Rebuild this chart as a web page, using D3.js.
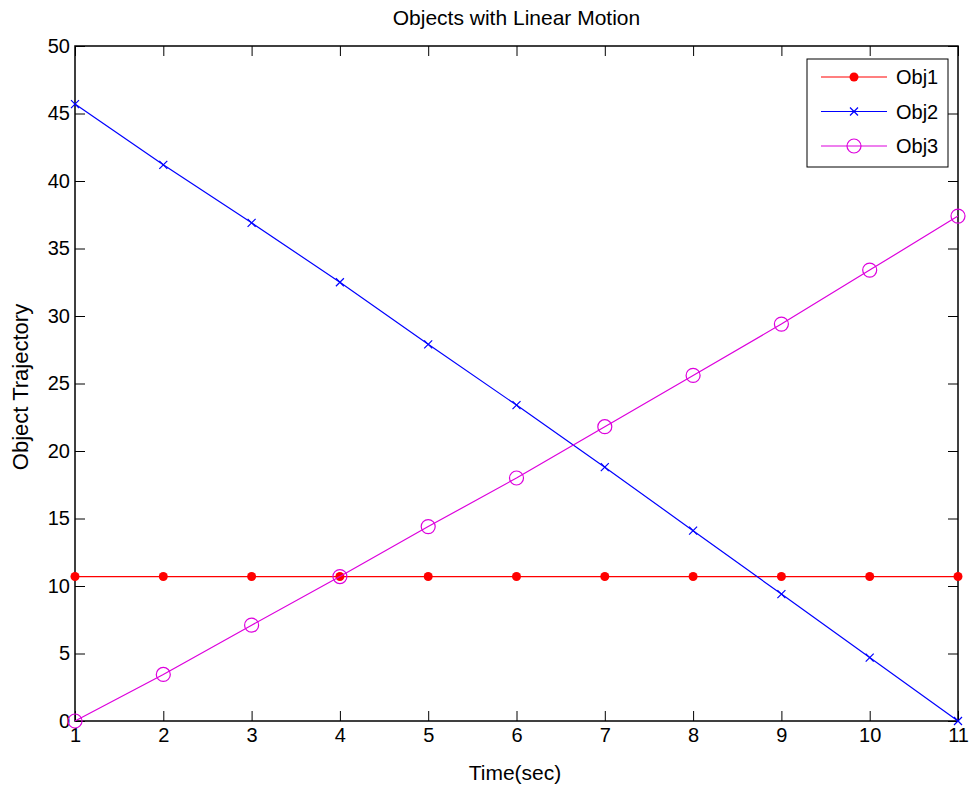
<!DOCTYPE html>
<html lang="en">
<head>
    <meta charset="UTF-8">
    <title>Objects with Linear Motion</title>
    <script src="https://d3js.org/d3.v7.min.js"></script>
    <style>
        body { margin: 0; background: #fff; }
        text { font-family: "Liberation Sans", Arial, sans-serif; fill: #000; }
    </style>
</head>
<body>
<script>
    // values
    let timeSteps = [1, 2, 3, 4, 5, 6, 7, 8, 9, 10, 11];
    let obj1 = [10.7, 10.7, 10.7, 10.7, 10.7, 10.7, 10.7, 10.7, 10.7, 10.7, 10.7];
    let obj2 = [45.7, 41.2, 36.9, 32.5, 27.9, 23.4, 18.8, 14.1, 9.4, 4.7, 0];
    let obj3 = [0, 3.45, 7.1, 10.7, 14.4, 18.0, 21.8, 25.6, 29.4, 33.4, 37.4];
    let seriesNames = ["Obj1", "Obj2", "Obj3"];
    let xTicks = [1, 2, 3, 4, 5, 6, 7, 8, 9, 10, 11];
    let yTicks = [0, 5, 10, 15, 20, 25, 30, 35, 40, 45, 50];

    let width = 969, height = 787;
    let margin = {left: 75, right: 11, top: 46, bottom: 66};
    let innerW = width - margin.left - margin.right;
    let innerH = height - margin.top - margin.bottom;

    let series = [
        {name: seriesNames[0], values: obj1, color: "#ff0000", marker: "dot"},
        {name: seriesNames[1], values: obj2, color: "#0000ff", marker: "cross"},
        {name: seriesNames[2], values: obj3, color: "#dd00dd", marker: "circle"}
    ];

    let svg = d3.select("body").append("svg")
        .attr("width", width)
        .attr("height", height);

    let g = svg.append("g")
        .attr("transform", `translate(${margin.left},${margin.top})`);

    let x = d3.scaleLinear().domain([1, 11]).range([0, innerW]);
    let y = d3.scaleLinear().domain([0, 50]).range([innerH, 0]);

    // axes, matlab style: ticks inside, mirrored on top/right
    function styleAxis(sel) {
        sel.select(".domain").remove();
        sel.selectAll("line").attr("stroke", "#000").attr("stroke-width", 1);
        sel.selectAll("text").style("font-size", "20px");
    }
    g.append("g")
        .attr("transform", `translate(0,${innerH})`)
        .call(d3.axisBottom(x).tickValues(xTicks).tickSizeInner(-10).tickSizeOuter(0).tickPadding(7))
        .call(styleAxis);
    g.append("g")
        .call(d3.axisTop(x).tickValues(xTicks).tickSizeInner(-10).tickSizeOuter(0).tickFormat(""))
        .call(styleAxis);
    g.append("g")
        .call(d3.axisLeft(y).tickValues(yTicks).tickSizeInner(-10).tickSizeOuter(0).tickPadding(5))
        .call(styleAxis);
    g.append("g")
        .attr("transform", `translate(${innerW},0)`)
        .call(d3.axisRight(y).tickValues(yTicks).tickSizeInner(-10).tickSizeOuter(0).tickFormat(""))
        .call(styleAxis);

    g.append("rect")
        .attr("width", innerW)
        .attr("height", innerH)
        .style("fill", "none")
        .style("stroke", "#000")
        .style("stroke-width", 1.5);

    let line = d3.line()
        .x(function (d, i) { return x(timeSteps[i]); })
        .y(function (d) { return y(d); });

    function drawMarker(sel, s, px, py) {
        if (s.marker === "dot") {
            sel.append("circle").attr("cx", px).attr("cy", py).attr("r", 4.5)
                .style("fill", s.color);
        } else if (s.marker === "cross") {
            let k = 4;
            sel.append("path")
                .attr("d", `M${px - k},${py - k}L${px + k},${py + k}M${px - k},${py + k}L${px + k},${py - k}`)
                .style("stroke", s.color).style("stroke-width", 1.2).style("fill", "none");
        } else {
            sel.append("circle").attr("cx", px).attr("cy", py).attr("r", 7)
                .style("fill", "none").style("stroke", s.color).style("stroke-width", 1.2);
        }
    }

    series.forEach(function (s) {
        let sg = g.append("g");
        sg.append("path")
            .datum(s.values)
            .attr("d", line)
            .style("fill", "none")
            .style("stroke", s.color)
            .style("stroke-width", 1.2);
        s.values.forEach(function (v, i) {
            drawMarker(sg, s, x(timeSteps[i]), y(v));
        });
    });

    // title and axis labels
    svg.append("text")
        .attr("x", margin.left + innerW / 2)
        .attr("y", 25)
        .attr("text-anchor", "middle")
        .style("font-size", "21px")
        .text("Objects with Linear Motion");
    svg.append("text")
        .attr("x", 515)
        .attr("y", 780)
        .attr("text-anchor", "middle")
        .style("font-size", "21px")
        .text("Time(sec)");
    svg.append("text")
        .attr("transform", `translate(28,387) rotate(-90)`)
        .attr("text-anchor", "middle")
        .style("font-size", "22px")
        .text("Object Trajectory");

    // legend
    let legend = svg.append("g").attr("transform", "translate(807,59)");
    legend.append("rect")
        .attr("width", 141)
        .attr("height", 108)
        .style("fill", "#fff")
        .style("stroke", "#000")
        .style("stroke-width", 1);
    series.forEach(function (s, i) {
        let ly = 18 + i * 34.5;
        legend.append("line")
            .attr("x1", 14).attr("x2", 80)
            .attr("y1", ly).attr("y2", ly)
            .style("stroke", s.color).style("stroke-width", 1.2);
        drawMarker(legend, s, 47, ly);
        legend.append("text")
            .attr("x", 89)
            .attr("y", ly + 7)
            .style("font-size", "20px")
            .text(s.name);
    });
</script>
</body>
</html>
